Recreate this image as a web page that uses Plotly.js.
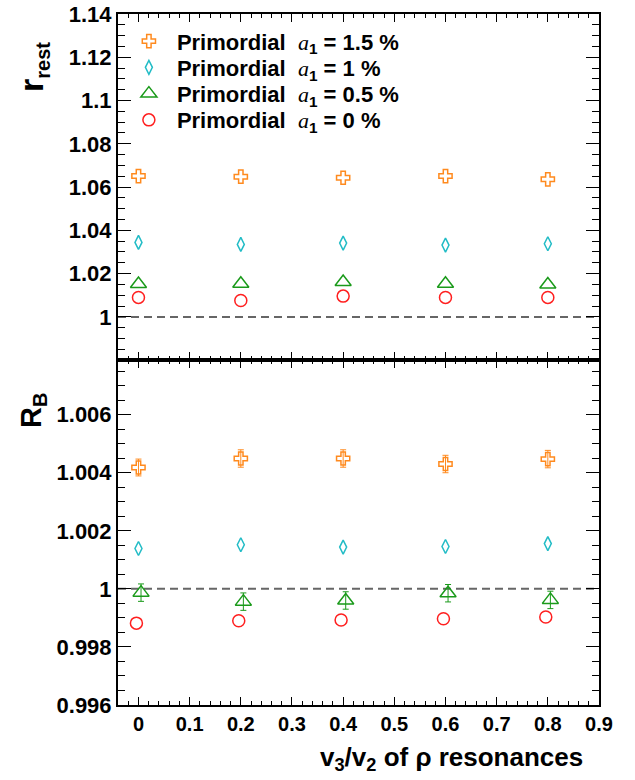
<!DOCTYPE html>
<html>
<head>
<meta charset="utf-8">
<script src="https://cdn.plot.ly/plotly-3.0.1.min.js"></script>
<style>html,body{margin:0;padding:0;background:#fff;}</style>
</head>
<body>
<div id="chart" style="width:635px;height:780px;"></div>
<script>
// ---- data ----
const xVals = [0, 0.2, 0.4, 0.6, 0.8];
const xBottomCircle = [-0.004, 0.196, 0.396, 0.596, 0.796];
const xBottomTriangle = [0.005, 0.205, 0.405, 0.605, 0.805];

const seriesNames = ['1.5', '1', '0.5', '0'];

// top panel: r_rest
const rRestA15 = [1.0651, 1.0648, 1.0643, 1.0651, 1.0636];
const rRestA10 = [1.0344, 1.0335, 1.0341, 1.0332, 1.0338];
const rRestA05 = [1.0152, 1.0153, 1.0161, 1.0153, 1.0150];
const rRestA00 = [1.0090, 1.0076, 1.0096, 1.0090, 1.0090];

// bottom panel: R_B
const RBA15 = [1.00418, 1.00449, 1.00449, 1.00430, 1.00447];
const RBA15err = [0.00029, 0.00030, 0.00030, 0.00030, 0.00030];
const RBA10 = [1.00139, 1.00152, 1.00144, 1.00146, 1.00156];
const RBA05 = [0.99987, 0.99956, 0.99960, 0.99985, 0.99962];
const RBA05err = [0.00030, 0.00030, 0.00030, 0.00030, 0.00030];
const RBA00 = [0.99882, 0.99890, 0.99893, 0.99897, 0.99903];

const xTickVals = [0, 0.1, 0.2, 0.3, 0.4, 0.5, 0.6, 0.7, 0.8, 0.9];

// ---- styles ----
const colors = ['#ff8a1e', '#22bcc6', '#1a9a1a', '#ff1f1f'];
const symbols = ['cross-open', 'diamond-tall-open', 'triangle-up-open', 'circle-open'];
const sizes = [11, 10, 14, 12];
const FONT = 'Liberation Sans, Arial, sans-serif';
const legendNames = ['legend', 'legend2', 'legend3', 'legend4'];
const legendY = [0.9605, 0.9225, 0.8845, 0.8465];

function legendLabel(v) {
  return 'Primordial\u00a0\u00a0<span style="font-family:\'Liberation Serif\',serif;font-style:italic;font-weight:normal">a</span><sub>1</sub> = ' + v + ' %';
}

function mk(i) {
  return {symbol: symbols[i], size: sizes[i], color: colors[i], line: {color: colors[i], width: 1.5}};
}

const topY = [rRestA15, rRestA10, rRestA05, rRestA00];
const traces = [];
topY.forEach((arr, i) => {
  traces.push({
    x: xVals, y: arr, xaxis: 'x2', yaxis: 'y2', type: 'scatter', mode: 'markers',
    name: legendLabel(seriesNames[i]), marker: mk(i), showlegend: true, legend: legendNames[i], cliponaxis: false
  });
});

traces.push({x: xVals, y: RBA15, xaxis: 'x', yaxis: 'y', type: 'scatter', mode: 'markers',
  marker: mk(0), showlegend: false,
  error_y: {type: 'data', array: RBA15err, visible: true, color: colors[0], thickness: 1, width: 3}});
traces.push({x: xVals, y: RBA10, xaxis: 'x', yaxis: 'y', type: 'scatter', mode: 'markers',
  marker: mk(1), showlegend: false});
traces.push({x: xBottomTriangle, y: RBA05, xaxis: 'x', yaxis: 'y', type: 'scatter', mode: 'markers',
  marker: mk(2), showlegend: false,
  error_y: {type: 'data', array: RBA05err, visible: true, color: colors[2], thickness: 1, width: 3}});
traces.push({x: xBottomCircle, y: RBA00, xaxis: 'x', yaxis: 'y', type: 'scatter', mode: 'markers',
  marker: mk(3), showlegend: false});

const xCommon = {
  range: [-0.04, 0.9], tickmode: 'array', tickvals: xTickVals,
  ticks: 'inside', ticklen: 8, tickwidth: 1, tickcolor: '#000',
  minor: {dtick: 0.02, tick0: 0, ticks: 'inside', ticklen: 4, tickwidth: 1, tickcolor: '#000'},
  showline: true, linecolor: '#000', linewidth: 2, mirror: 'allticks',
  showgrid: false, zeroline: false,
  tickfont: {family: FONT, size: 20, color: '#000', weight: 'bold'}
};
const yCommon = {
  ticks: 'inside', ticklen: 13, tickwidth: 1, tickcolor: '#000',
  showline: true, linecolor: '#000', linewidth: 2, mirror: 'allticks',
  showgrid: false, zeroline: false,
  tickfont: {family: FONT, size: 22, color: '#000', weight: 'bold'}
};

function legendCfg(y) {
  return {
    x: 0.006, y: y, xanchor: 'left', yanchor: 'middle',
    bgcolor: 'rgba(0,0,0,0)', borderwidth: 0,
    itemwidth: 46, tracegroupgap: 0,
    font: {family: FONT, size: 22, color: '#000', weight: 'bold'}
  };
}

const layout = {
  width: 635, height: 780,
  margin: {l: 118, r: 36, t: 14, b: 75, pad: 0},
  paper_bgcolor: '#fff', plot_bgcolor: '#fff',
  font: {family: FONT, color: '#000'},
  showlegend: true,
  legend: legendCfg(legendY[0]),
  legend2: legendCfg(legendY[1]),
  legend3: legendCfg(legendY[2]),
  legend4: legendCfg(legendY[3]),
  xaxis: Object.assign({}, xCommon, {domain: [0, 1], anchor: 'y', showticklabels: true}),
  xaxis2: Object.assign({}, xCommon, {domain: [0, 1], anchor: 'y2', matches: 'x', showticklabels: false}),
  yaxis: Object.assign({}, yCommon, {domain: [0, 0.5], anchor: 'x', range: [0.996, 1.0079], dtick: 0.002, tick0: 0,
    minor: {dtick: 0.0005, ticks: 'inside', ticklen: 7, tickwidth: 1, tickcolor: '#000'}}),
  yaxis2: Object.assign({}, yCommon, {domain: [0.5, 1], anchor: 'x2', range: [0.9803, 1.14], dtick: 0.02, tick0: 0,
    minor: {dtick: 0.005, ticks: 'inside', ticklen: 7, tickwidth: 1, tickcolor: '#000'}}),
  shapes: [
    {type: 'line', xref: 'paper', yref: 'y2', x0: 0, x1: 1, y0: 1, y1: 1, layer: 'below',
      line: {color: '#666', width: 2, dash: '8px,5px'}},
    {type: 'line', xref: 'paper', yref: 'y', x0: 0, x1: 1, y0: 1, y1: 1, layer: 'below',
      line: {color: '#666', width: 2, dash: '8px,5px'}}
  ],
  annotations: [
    {text: 'r<sub><span style="font-size:20px">rest</span></sub>', xref: 'paper', yref: 'paper', x: -0.178, y: 0.924, textangle: -90,
      xanchor: 'center', yanchor: 'middle', showarrow: false,
      font: {family: FONT, size: 34, color: '#000', weight: 'bold'}},
    {text: 'R<sub><span style="font-size:20px">B</span></sub>', xref: 'paper', yref: 'paper', x: -0.178, y: 0.426, textangle: -90,
      xanchor: 'center', yanchor: 'middle', showarrow: false,
      font: {family: FONT, size: 29, color: '#000', weight: 'bold'}},
    {text: 'v<sub>3</sub>/v<sub>2</sub> of \u03c1 resonances', xref: 'paper', yref: 'paper', x: 0.971, y: -0.078,
      xanchor: 'right', yanchor: 'middle', showarrow: false,
      font: {family: FONT, size: 26, color: '#000', weight: 'bold'}}
  ]
};

Plotly.newPlot('chart', traces, layout, {displayModeBar: false, staticPlot: true});
</script>
</body>
</html>
